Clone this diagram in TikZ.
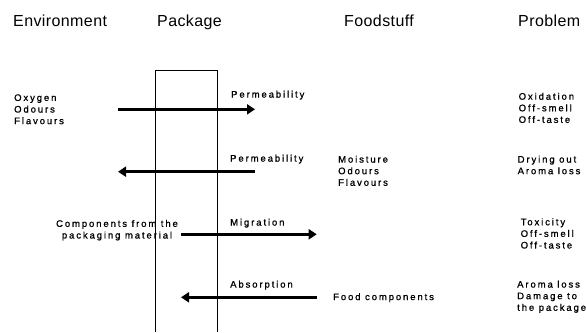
\documentclass[tikz,border=0pt]{standalone}
\usepackage{fontspec}
\setmainfont{Liberation Sans}
\newfontfamily\headfont[LetterSpace=2.5]{Liberation Sans}
\newfontfamily\bodyfont[LetterSpace=20,FakeBold=1]{Liberation Sans}
\usetikzlibrary{arrows.meta}

\begin{document}
\begin{tikzpicture}[x=1pt,y=-1pt,
  header/.style={font=\headfont\fontsize{16}{18}\selectfont, inner sep=0pt, anchor=base west},
  label/.style={font=\bodyfont\fontsize{9.5}{11.6}\selectfont, inner sep=0pt, anchor=base west},
  block/.style={font=\bodyfont\fontsize{9.5}{11.6}\selectfont, inner sep=0pt, anchor=north west, align=left},
  wall/.style={line width=0.8pt},
  flow/.style={line width=3pt, -{Triangle[length=8pt,width=10pt]}}]

  \useasboundingbox (0,0) rectangle (586,332);

  % column headings
  \node[header] (env)  at (13,26.8)  {Environment};
  \node[header] (pack) at (157,26.8) {Package};
  \node[header] (food) at (344,26.8) {Foodstuff};
  \node[header] (prob) at (518,26.8) {Problem};

  % package wall, open at the bottom
  \coordinate (wallBL) at (155.5,332);
  \coordinate (wallTL) at (155.5,70);
  \coordinate (wallTR) at (217.5,70);
  \coordinate (wallBR) at (217.5,332);
  \draw[wall] (wallBL) -- (wallTL) -- (wallTR) -- (wallBR);

  % row 1: gases in from the environment
  \node[block] (gases) at (14,94.1) {Oxygen\\Odours\\Flavours};
  \node[label] (perm1) at (231,97.6) {Permeability};
  \node[block] (prob1) at (518.5,92.6) {Oxidation\\Off-smell\\Off-taste};
  \coordinate (a1s) at (118,109.3);
  \coordinate (a1e) at (255,109.3);
  \draw[flow] (a1s) -- (a1e);

  % row 2: losses out of the foodstuff
  \node[block] (losses) at (338,155.5) {Moisture\\Odours\\Flavours};
  \node[label] (perm2) at (230,161.6) {Permeability};
  \node[block] (prob2) at (517.5,155.5) {Drying out\\Aroma loss};
  \coordinate (a2s) at (255,171.7);
  \coordinate (a2e) at (118,171.7);
  \draw[flow] (a2s) -- (a2e);

  % row 3: migration from the packaging material
  \node[block, anchor=north, align=center] (comp) at (117,219.8) {Components from the\\packaging material};
  \node[label] (migr) at (230,225.6) {Migration};
  \node[block] (prob3) at (520.5,218.2) {Toxicity\\Off-smell\\Off-taste};
  \coordinate (a3s) at (181,234.3);
  \coordinate (a3e) at (316.7,234.3);
  \draw[flow] (a3s) -- (a3e);

  % row 4: absorption of food components
  \node[label] (fcomp) at (333,300.1) {Food components};
  \node[label] (absorb) at (230,287.6) {Absorption};
  \node[block] (prob4) at (517,280.5) {Aroma loss\\Damage to\\the package};
  \coordinate (a4s) at (316.7,297.3);
  \coordinate (a4e) at (181,297.3);
  \draw[flow] (a4s) -- (a4e);
\end{tikzpicture}
\end{document}
